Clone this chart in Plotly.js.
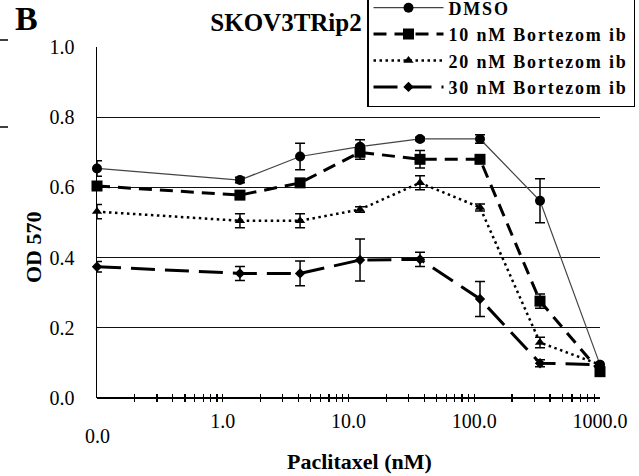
<!DOCTYPE html>
<html>
<head>
<meta charset="utf-8">
<script src="https://cdn.plot.ly/plotly-3.0.1.min.js"></script>
<style>
html,body{margin:0;padding:0;background:#fff;}
#chart{width:639px;height:476px;}
.legendtext{letter-spacing:1.8px;}
</style>
</head>
<body>
<div id="chart"></div>
<script>
// Paclitaxel concentrations (nM); the "0.0" control is drawn at the 0.1 position of the log axis
const paclitaxel = [0.1, 1.37, 4.12, 12.35, 37.04, 111.1, 333.3, 1000];

const seriesNames = ["DMSO", "10 nM Bortezom ib", "20 nM Bortezom ib", "30 nM Bortezom ib"];

const dmso      = [0.654, 0.621, 0.688, 0.716, 0.738, 0.738, 0.562, 0.095];
const dmsoErr   = [0.022, 0.008, 0.038, 0.020, 0.005, 0.012, 0.063, 0.005];

const bort10    = [0.604, 0.578, 0.613, 0.700, 0.680, 0.680, 0.276, 0.075];
const bort10Err = [0.012, 0.010, 0.010, 0.020, 0.025, 0.010, 0.020, 0.010];

const bort20    = [0.531, 0.505, 0.505, 0.537, 0.613, 0.543, 0.158, 0.095];
const bort20Err = [0.020, 0.020, 0.020, 0.008, 0.020, 0.010, 0.015, 0.005];

const bort30    = [0.374, 0.355, 0.355, 0.393, 0.395, 0.282, 0.099, 0.095];
const bort30Err = [0.015, 0.020, 0.035, 0.060, 0.020, 0.050, 0.010, 0.005];

const xTickVals = [1, 10, 100, 1000];
const xTickText = ["1.0", "10.0", "100.0", "1000.0"];
// minor tick positions of the log axis (2..9 in each decade)
const xMinorVals = [0.2,0.3,0.4,0.5,0.6,0.7,0.8,0.9, 2,3,4,5,6,7,8,9, 20,30,40,50,60,70,80,90, 200,300,400,500,600,700,800,900];
const zeroLabel = "0.0";

const FONT = 'Liberation Serif';

// pixel -> paper helpers for layout placement (plot area: x 97..600, paper y=0 at px 402, height 355)
const PX = px => (px - 97) / 503;
const PY = py => (402 - py) / 355;

function errBar(arr) {
  return {type: 'data', array: arr, visible: true, color: '#000', thickness: 1.5, width: 5};
}

const traces = [
  {x: paclitaxel, y: dmso, error_y: errBar(dmsoErr), name: seriesNames[0], mode: 'lines+markers',
   line: {color: '#444', width: 1.2}, marker: {symbol: 'circle', size: 10, color: '#000'}, cliponaxis: false},
  {x: paclitaxel, y: bort10, error_y: errBar(bort10Err), name: seriesNames[1], mode: 'lines+markers',
   line: {color: '#000', width: 3, dash: '13px,8px'}, marker: {symbol: 'square', size: 11, color: '#000'}, cliponaxis: false},
  {x: paclitaxel, y: bort20, error_y: errBar(bort20Err), name: seriesNames[2], mode: 'lines+markers',
   line: {color: '#000', width: 2.5, dash: '2.5px,3.5px'}, marker: {symbol: 'triangle-up', size: 9, color: '#000'}, cliponaxis: false},
  {x: paclitaxel, y: bort30, error_y: errBar(bort30Err), name: seriesNames[3], mode: 'lines+markers',
   line: {color: '#000', width: 3, dash: '24px,10px'}, marker: {symbol: 'diamond', size: 8, color: '#000'}, cliponaxis: false}
];
traces.forEach((t, i) => { t.name = '<b>' + seriesNames[i] + '</b>'; });

const layout = {
  width: 639, height: 476,
  margin: {l: 97, r: 39, t: 47, b: 74, autoexpand: false},
  paper_bgcolor: '#fff', plot_bgcolor: '#fff',
  font: {family: FONT, color: '#000', size: 20},
  title: {text: '<b>SKOV3TRip2</b>', x: 286/639, xref: 'container', xanchor: 'center',
          y: 1 - 22/476, yref: 'container', yanchor: 'middle',
          font: {family: FONT, size: 25, color: '#000'}},
  showlegend: true,
  legend: {x: PX(367), xanchor: 'left', y: PY(-12), yanchor: 'top',
           bgcolor: '#fff', bordercolor: '#000', borderwidth: 1.5,
           font: {family: FONT, size: 18, color: '#000'},
           itemwidth: 70, tracegroupgap: 0},
  xaxis: {type: 'log', range: [-1, 3], anchor: 'free', position: 0,
          tickmode: 'array', tickvals: xTickVals, ticktext: xTickText,
          ticks: 'inside', ticklen: 8, tickwidth: 1.3, tickcolor: '#000',
          showline: false, showgrid: false, zeroline: false,
          tickfont: {family: FONT, size: 20, color: '#000'}, ticklabelstandoff: 5,
          minor: {tickmode: 'array', tickvals: xMinorVals, ticks: 'inside', ticklen: 8, tickwidth: 1.2, tickcolor: '#000', showgrid: false}},
  yaxis: {range: [0, 1.0], domain: [4/355, 1], tickmode: 'linear', tick0: 0, dtick: 0.2, tickformat: '.1f',
          showline: true, linecolor: '#000', linewidth: 1.5, ticks: '',
          showgrid: true, gridcolor: '#111', gridwidth: 1.3,
          zeroline: true, zerolinecolor: '#000', zerolinewidth: 1.5,
          tickfont: {family: FONT, size: 20, color: '#000'}, ticklabelstandoff: 17},
  annotations: [
    {text: zeroLabel, xref: 'x', x: -1, yref: 'paper', y: PY(436), yanchor: 'middle', xanchor: 'center',
     showarrow: false, font: {family: FONT, size: 20, color: '#000'}},
    {text: '<b>Paclitaxel (nM)</b>', xref: 'paper', x: PX(359), yref: 'paper', y: PY(461),
     xanchor: 'center', yanchor: 'middle', showarrow: false, font: {family: FONT, size: 22, color: '#000'}},
    {text: '<b>OD 570</b>', xref: 'paper', x: PX(33), yref: 'paper', y: PY(247), textangle: -90,
     xanchor: 'center', yanchor: 'middle', showarrow: false, font: {family: FONT, size: 22, color: '#000'}},
    {text: '<b>B</b>', xref: 'paper', x: PX(26), yref: 'paper', y: PY(18),
     xanchor: 'center', yanchor: 'middle', showarrow: false, font: {family: FONT, size: 34, color: '#000'}}
  ],
  shapes: [
    {type: 'line', xref: 'paper', yref: 'paper', x0: PX(0), x1: PX(8), y0: PY(40), y1: PY(40), line: {color: '#000', width: 1.5}},
    {type: 'line', xref: 'paper', yref: 'paper', x0: PX(0), x1: PX(8), y0: PY(127), y1: PY(127), line: {color: '#000', width: 1.5}}
  ]
};

Plotly.newPlot('chart', traces, layout, {staticPlot: true, displayModeBar: false});
</script>
</body>
</html>
